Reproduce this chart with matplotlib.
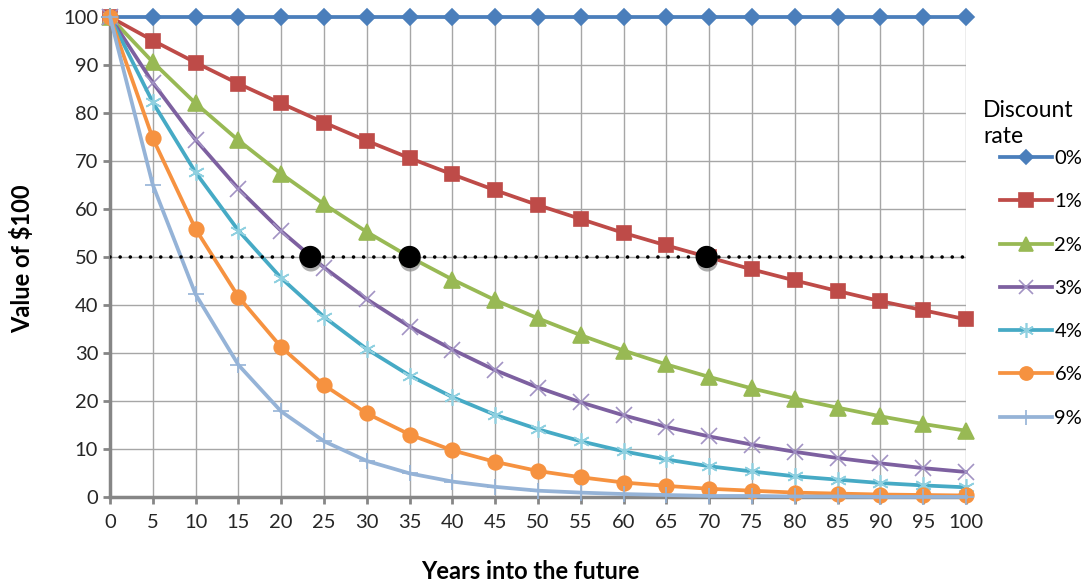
import numpy as np
import matplotlib
matplotlib.use("Agg")
import matplotlib.pyplot as plt
import matplotlib.patheffects as pe

plt.rcParams['font.family'] = ['Lato', 'DejaVu Sans']

# years (category axis)
years = [0, 5, 10, 15, 20, 25, 30, 35, 40, 45, 50,
         55, 60, 65, 70, 75, 80, 85, 90, 95, 100]

rate_labels = ["0%", "1%", "2%", "3%", "4%", "6%", "9%"]

# value of $100
r0 = [100] * 21
r1 = [100, 95.1, 90.5, 86.1, 82.0, 78.0, 74.2, 70.6, 67.2, 63.9, 60.8,
      57.9, 55.0, 52.4, 49.9, 47.4, 45.1, 42.9, 40.8, 38.9, 37.0]
r2 = [100, 90.6, 82.0, 74.3, 67.3, 61.0, 55.2, 50.0, 45.3, 41.0, 37.2,
      33.7, 30.5, 27.6, 25.0, 22.6, 20.5, 18.6, 16.8, 15.2, 13.8]
r3 = [100, 86.3, 74.4, 64.2, 55.4, 47.8, 41.2, 35.5, 30.7, 26.4, 22.8,
      19.7, 17.0, 14.6, 12.6, 10.9, 9.4, 8.1, 7.0, 6.0, 5.2]
r4 = [100, 82.2, 67.6, 55.5, 45.6, 37.5, 30.8, 25.3, 20.8, 17.1, 14.1,
      11.6, 9.5, 7.8, 6.4, 5.3, 4.3, 3.6, 2.9, 2.4, 2.0]
r6 = [100, 74.7, 55.8, 41.7, 31.2, 23.3, 17.4, 13.0, 9.7, 7.3, 5.4,
      4.1, 3.0, 2.3, 1.7, 1.3, 0.9, 0.7, 0.5, 0.4, 0.3]
r9 = [100, 65.0, 42.2, 27.5, 17.8, 11.6, 7.5, 4.9, 3.2, 2.1, 1.3,
      0.9, 0.6, 0.4, 0.2, 0.2, 0.1, 0.1, 0.0, 0.0, 0.0]

# half-value points (black dots) for 3%, 2%, 1%
half_years = [23.4, 35.0, 69.7]
half_value = 50

series = [r0, r1, r2, r3, r4, r6, r9]

# style per series: line colour, marker, marker size, marker colour
styles = [
    ("#4A7EBB", "D", 8, "#4A7EBB"),
    ("#BE4B48", "s", 10.5, "#BE4B48"),
    ("#98B954", "^", 11, "#98B954"),
    ("#7D60A0", "x", 11, "#A293C4"),
    ("#46AAC5", (6, 2, 0), 12, "#8FD0E0"),
    ("#F69240", "o", 10.5, "#F69240"),
    ("#95B3D7", "+", 12, "#95B3D7"),
]

fig = plt.figure(figsize=(10.83, 5.86), dpi=100)
ax = fig.add_axes([0.1016, 0.152, 0.7904, 0.819])

handles = []
for vals, lab, (c, m, ms, mc) in zip(series, rate_labels, styles):
    h, = ax.plot(years, vals, color=c, lw=2.7, marker=m, markersize=ms,
                 markerfacecolor=mc, markeredgecolor=mc, markeredgewidth=1.2,
                 label=lab, clip_on=False, zorder=3)
    handles.append(h)

# 50% reference line
ax.axhline(half_value, color="black", lw=2.6, ls=(0, (0.01, 2.8)),
           dash_capstyle="round", zorder=4)

ax.plot(half_years, [half_value] * len(half_years), "o", color="black",
        markersize=15, zorder=5,
        path_effects=[pe.SimplePatchShadow(offset=(0.5, -3), shadow_rgbFace="0.55", alpha=0.7),
                      pe.Normal()])

ax.set_xlim(0, 100)
ax.set_ylim(0, 100)
ax.set_xticks(years)
ax.set_yticks(range(0, 101, 10))
ax.tick_params(axis="both", labelsize=14.5, colors="#868686", labelcolor="#262626",
               length=5, width=2, direction="out")
ax.tick_params(axis="x", pad=7)
ax.grid(True, color="#A6A6A6", lw=1)
ax.set_axisbelow(True)
for s in ["top", "right"]:
    ax.spines[s].set_visible(False)
for s in ["left", "bottom"]:
    ax.spines[s].set_color("#868686")
    ax.spines[s].set_linewidth(2.5)

fig.text(0.49, 0.024, "Years into the future", ha="center", va="center",
         fontsize=17, fontweight="bold")
fig.text(0.02, 0.558, "Value of $100", ha="center", va="center",
         rotation=90, fontsize=17, fontweight="bold")

fig.text(983 / 1083, 1 - 100 / 586, "Discount\nrate", ha="left", va="top",
         fontsize=16.5, linespacing=1.3)
ax.legend(handles=handles, loc="upper left", frameon=False,
          bbox_to_anchor=(1000 / 1083, 1 - 150 / 586),
          bbox_transform=fig.transFigure, borderpad=0, borderaxespad=0,
          fontsize=14.5, handlelength=2.6, handletextpad=0.1,
          labelspacing=1.3, markerscale=0.9)

fig.savefig("out.png", dpi=100)
